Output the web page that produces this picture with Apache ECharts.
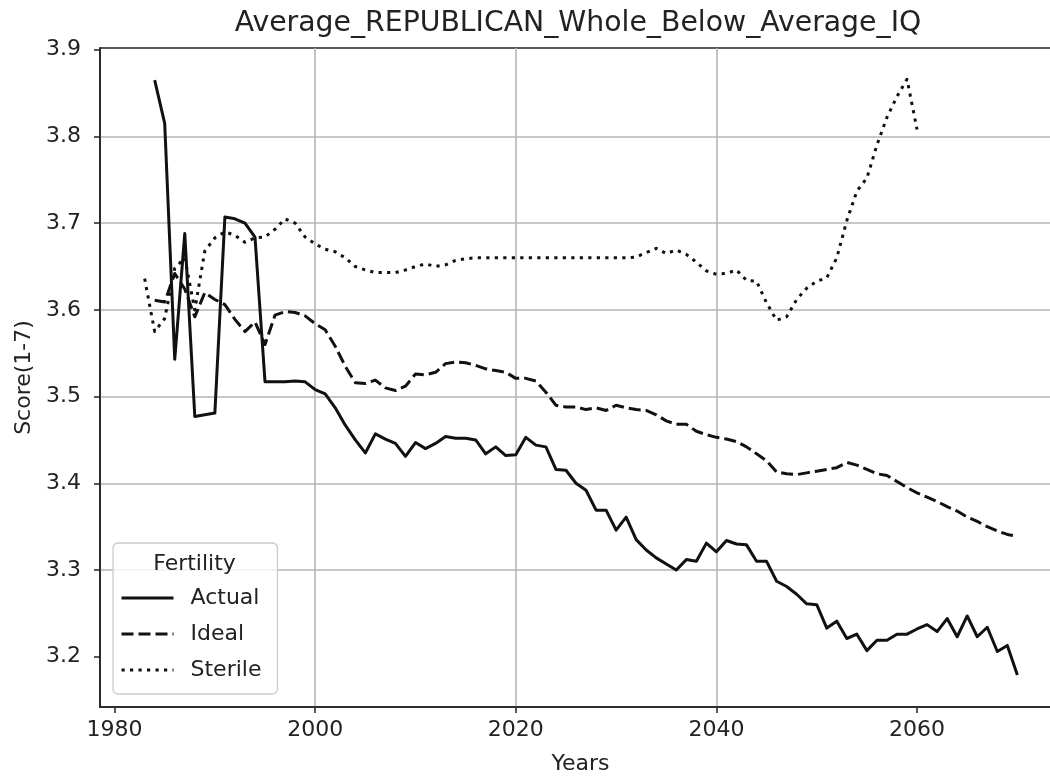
<!DOCTYPE html>
<html>
<head>
<meta charset="utf-8">
<title>Average_REPUBLICAN_Whole_Below_Average_IQ</title>
<script src="https://cdn.jsdelivr.net/npm/echarts@6/dist/echarts.min.js"></script>
<style>
  html, body { margin: 0; padding: 0; background: #ffffff; overflow: hidden; }
  /* the plot area continues past the right edge of the window */
  #chart { width: 1090px; height: 776px; }
</style>
</head>
<body>
<div id="chart"></div>
<script>
// Mean score per simulated year, one series per fertility group.
const actualStart = 1984;
const actualValues = [
  3.865, 3.815, 3.543, 3.688, 3.477, 3.479, 3.481, 3.707, 3.705, 3.700,
  3.684, 3.517, 3.517, 3.517, 3.518, 3.517, 3.508, 3.503, 3.487, 3.467,
  3.450, 3.435, 3.457, 3.451, 3.446, 3.431, 3.447, 3.440, 3.446, 3.454,
  3.452, 3.452, 3.450, 3.434, 3.442, 3.432, 3.433, 3.453, 3.444, 3.442,
  3.416, 3.415, 3.400, 3.392, 3.369, 3.369, 3.346, 3.361, 3.335, 3.323,
  3.314, 3.307, 3.300, 3.312, 3.310, 3.331, 3.321, 3.334, 3.330, 3.329,
  3.310, 3.310, 3.287, 3.281, 3.272, 3.261, 3.260, 3.233, 3.241, 3.221,
  3.226, 3.207, 3.219, 3.219, 3.226, 3.226, 3.232, 3.237, 3.229, 3.244,
  3.223, 3.247, 3.223, 3.234, 3.206, 3.213, 3.179
];

const idealStart = 1984;
const idealValues = [
  3.611, 3.609, 3.642, 3.624, 3.592, 3.620, 3.612, 3.606, 3.589, 3.575,
  3.586, 3.560, 3.594, 3.598, 3.597, 3.593, 3.584, 3.577, 3.558, 3.535,
  3.516, 3.515, 3.519, 3.510, 3.507, 3.512, 3.526, 3.525, 3.528, 3.538,
  3.540, 3.539, 3.536, 3.532, 3.530, 3.528, 3.521, 3.521, 3.518, 3.505,
  3.490, 3.488, 3.488, 3.485, 3.487, 3.484, 3.490, 3.487, 3.485, 3.484,
  3.479, 3.472, 3.468, 3.468, 3.460, 3.456, 3.453, 3.451, 3.448, 3.442,
  3.434, 3.426, 3.413, 3.411, 3.410, 3.412, 3.414, 3.416, 3.418, 3.424,
  3.421, 3.416, 3.411, 3.409, 3.402, 3.395, 3.389, 3.384, 3.379, 3.373,
  3.368, 3.361, 3.356, 3.350, 3.345, 3.341, 3.339
];

const sterileStart = 1983;
const sterileValues = [
  3.636, 3.575, 3.590, 3.648, 3.660, 3.600, 3.668, 3.683, 3.690, 3.686,
  3.678, 3.683, 3.684, 3.693, 3.705, 3.700, 3.684, 3.676, 3.670, 3.667,
  3.660, 3.650, 3.646, 3.643, 3.643, 3.643, 3.646, 3.650, 3.653, 3.650,
  3.652, 3.657, 3.659, 3.660, 3.660, 3.660, 3.660, 3.660, 3.660, 3.660,
  3.660, 3.660, 3.660, 3.660, 3.660, 3.660, 3.660, 3.660, 3.660, 3.661,
  3.666, 3.671, 3.665, 3.669, 3.664, 3.655, 3.645, 3.641, 3.642, 3.646,
  3.634, 3.633, 3.608, 3.588, 3.592, 3.612, 3.625, 3.633, 3.637, 3.660,
  3.703, 3.737, 3.752, 3.790, 3.822, 3.846, 3.866, 3.808
];

const seriesNames = ['Actual', 'Ideal', 'Sterile'];
const xTickValues = [1980, 2000, 2020, 2040, 2060];
const yTickValues = [3.2, 3.3, 3.4, 3.5, 3.6, 3.7, 3.8, 3.9];

const FONT = '"DejaVu Sans", "Noto Sans", sans-serif';
const INK = '#222222';
const GRID = '#b5b5b5';
const X_MIN = 1978.55;
const X_MAX = 2074.35;

function pairs(start, values) {
  return values.map(function (v, i) { return [start + i, v]; });
}

function lineSeries(name, start, values, dash) {
  return {
    name: name,
    type: 'line',
    xAxisIndex: 0,
    yAxisIndex: 0,
    data: pairs(start, values),
    showSymbol: false,
    symbol: 'none',
    z: 3,
    lineStyle: { color: '#111111', width: 3, type: dash, cap: 'butt', join: 'round' },
    itemStyle: { color: '#111111' },
    emphasis: { disabled: true }
  };
}

const chart = echarts.init(document.getElementById('chart'), null, { renderer: 'canvas' });

chart.setOption({
  animation: false,
  backgroundColor: '#ffffff',
  grid: {
    left: 100, width: 961, top: 48, bottom: 69,
    outerBoundsMode: 'none',
    containLabel: false,
    show: true, borderColor: INK, borderWidth: 1.6, backgroundColor: 'transparent'
  },
  xAxis: {
    type: 'value',
    min: X_MIN,
    max: X_MAX,
    name: 'Years',
    nameLocation: 'middle',
    nameGap: 46,
    nameTextStyle: { fontFamily: FONT, fontSize: 22, color: INK },
    axisLine: { show: true, onZero: false, lineStyle: { color: INK, width: 1.6 } },
    axisTick: { show: true, length: 6, customValues: xTickValues, lineStyle: { color: INK, width: 1.5 } },
    axisLabel: {
      customValues: xTickValues, margin: 12,
      fontFamily: FONT, fontSize: 22, color: INK,
      formatter: function (v) { return String(v); }
    },
    splitLine: { show: true, showMinLine: false, showMaxLine: false, lineStyle: { color: GRID, width: 1.6 } }
  },
  yAxis: {
    type: 'value',
    min: 3.142,
    max: 3.902,
    name: 'Score(1-7)',
    nameLocation: 'middle',
    nameGap: 64,
    nameTextStyle: { fontFamily: FONT, fontSize: 22, color: INK },
    axisLine: { show: true, onZero: false, lineStyle: { color: INK, width: 1.6 } },
    axisTick: { show: true, length: 6, customValues: yTickValues, lineStyle: { color: INK, width: 1.5 } },
    axisLabel: {
      customValues: yTickValues, margin: 19,
      fontFamily: FONT, fontSize: 22, color: INK,
      formatter: function (v) { return v.toFixed(1); }
    },
    splitLine: { show: true, showMinLine: false, showMaxLine: false, lineStyle: { color: GRID, width: 1.6 } }
  },
  legend: {
    orient: 'vertical',
    left: 113,
    top: 543,
    padding: [42, 16, 11, 7],
    itemWidth: 52,
    itemHeight: 26,
    itemGap: 10,
    selectedMode: false,
    backgroundColor: 'rgba(255,255,255,0.8)',
    borderColor: '#cccccc',
    borderWidth: 1.3,
    borderRadius: 5,
    itemStyle: { opacity: 0 },
    lineStyle: { width: 3 },
    textStyle: { fontFamily: FONT, fontSize: 22, color: INK, lineHeight: 26, padding: [0, 0, 0, 12] },
    data: seriesNames
  },
  graphic: [
    {
      type: 'text', z: 10,
      style: {
        text: 'Average_REPUBLICAN_Whole_Below_Average_IQ',
        x: 578, y: 24, textAlign: 'center', textVerticalAlign: 'middle',
        font: '28.3px ' + FONT, fill: INK
      }
    },
    {
      type: 'text', z: 100,
      style: {
        text: 'Fertility',
        x: 194.5, y: 564, textAlign: 'center', textVerticalAlign: 'middle',
        font: '22px ' + FONT, fill: INK
      }
    }
  ],
  series: [
    lineSeries(seriesNames[0], actualStart, actualValues, 'solid'),
    lineSeries(seriesNames[1], idealStart, idealValues, [12, 5]),
    lineSeries(seriesNames[2], sterileStart, sterileValues, [3.2, 5.3])
  ]
});
</script>
</body>
</html>
